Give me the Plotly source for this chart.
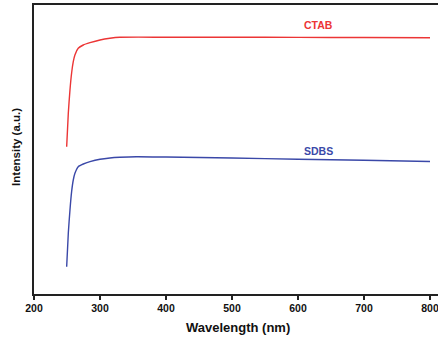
import plotly.graph_objects as go

# Data (intensity in arbitrary units)
ctab_wl = [249.5, 252, 254.5, 257, 259.5, 262, 267, 274.7, 284.8, 300, 315, 330, 400, 500, 600, 700, 800]
ctab_int = [147.3, 181, 204, 221, 232.3, 239, 245.7, 249, 251.3, 254, 255.7, 256.7, 256.8, 256.8, 256.6, 256.5, 256.3]

sdbs_wl = [249.5, 252, 254.5, 257, 259.5, 262, 267, 274.7, 284.8, 300, 315, 330, 355, 400, 500, 600, 700, 800]
sdbs_int = [27.3, 61, 84, 102.3, 114, 120.7, 127.3, 130, 132.3, 134.7, 136, 136.7, 137.3, 137, 136, 134.8, 133.8, 132.5]

x_ticks = [200, 300, 400, 500, 600, 700, 800]
labels = ["CTAB", "SDBS"]
label_pos = [(631, 269), (631, 143)]
colors = ["#ec3535", "#3a48a8"]

FONT = "Liberation Sans, Arial, sans-serif"

fig = go.Figure()
fig.add_trace(go.Scatter(x=ctab_wl, y=ctab_int, mode="lines", line=dict(color=colors[0], width=1.4, shape="spline", smoothing=0.6), showlegend=False))
fig.add_trace(go.Scatter(x=sdbs_wl, y=sdbs_int, mode="lines", line=dict(color=colors[1], width=1.4, shape="spline", smoothing=0.6), showlegend=False))

for lab, (lx, ly), c in zip(labels, label_pos, colors):
    fig.add_annotation(x=lx, y=ly, text=f"<b>{lab}</b>", showarrow=False,
                       font=dict(family=FONT, size=10.5, color=c), xanchor="center", yanchor="middle")

fig.add_annotation(xref="paper", yref="paper", x=0.505, y=0, yshift=-33, text="<b>Wavelength (nm)</b>",
                   showarrow=False, font=dict(family=FONT, size=13, color="#111"), xanchor="center", yanchor="middle")
fig.add_annotation(xref="paper", yref="paper", x=0, y=0.509, xshift=-18, text="<b>Intensity (a.u.)</b>",
                   textangle=-90, showarrow=False, font=dict(family=FONT, size=11.5, color="#111"),
                   xanchor="center", yanchor="middle")

fig.update_xaxes(range=[200, 812.1], tickvals=x_ticks, ticktext=[str(v) for v in x_ticks],
                 showline=True, linecolor="#222", linewidth=1.5, mirror=True,
                 ticks="outside", ticklen=4, tickwidth=1.5, tickcolor="#222",
                 tickfont=dict(family=FONT, size=10.5, color="#111", weight="bold"),
                 ticklabeloverflow="allow",
                 showgrid=False, zeroline=False)
fig.update_yaxes(range=[0, 289], showline=True, linecolor="#222", linewidth=1.5, mirror=False,
                 showticklabels=False, ticks="", showgrid=False, zeroline=False)

fig.update_layout(width=438, height=342, margin=dict(l=34, r=0, t=5, b=48),
                  plot_bgcolor="white", paper_bgcolor="white")

fig.write_html("out.html", config={"displayModeBar": False},
               post_script="document.body.style.margin='0';document.body.style.overflow='hidden';")
